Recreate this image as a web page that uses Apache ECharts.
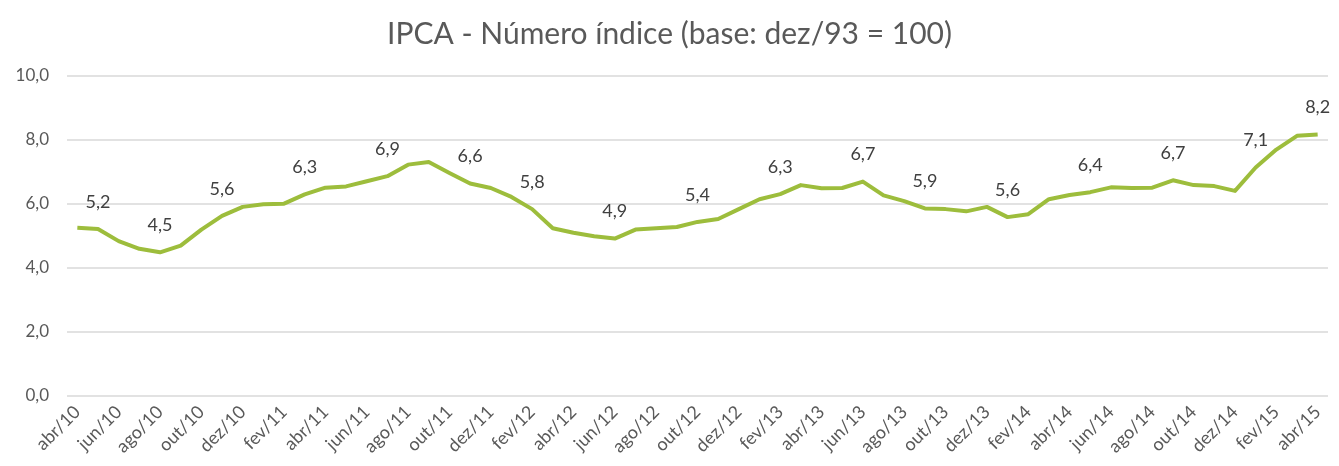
<!DOCTYPE html>
<html>
<head>
<meta charset="utf-8">
<script src="https://cdn.jsdelivr.net/npm/echarts@6/dist/echarts.min.js"></script>
<style>
  html, body { margin: 0; padding: 0; background: #fff; }
  #chart { width: 1339px; height: 466px; }
</style>
</head>
<body>
<div id="chart"></div>
<script>
const months = [
  'abr/10','mai/10','jun/10','jul/10','ago/10','set/10','out/10','nov/10','dez/10',
  'jan/11','fev/11','mar/11','abr/11','mai/11','jun/11','jul/11','ago/11','set/11','out/11','nov/11','dez/11',
  'jan/12','fev/12','mar/12','abr/12','mai/12','jun/12','jul/12','ago/12','set/12','out/12','nov/12','dez/12',
  'jan/13','fev/13','mar/13','abr/13','mai/13','jun/13','jul/13','ago/13','set/13','out/13','nov/13','dez/13',
  'jan/14','fev/14','mar/14','abr/14','mai/14','jun/14','jul/14','ago/14','set/14','out/14','nov/14','dez/14',
  'jan/15','fev/15','mar/15','abr/15'
]

const ipca = [
  5.26, 5.22, 4.84, 4.60, 4.49, 4.70, 5.20, 5.63, 5.91,
  5.99, 6.01, 6.30, 6.51, 6.55, 6.71, 6.87, 7.23, 7.31, 6.97, 6.64, 6.50,
  6.22, 5.84, 5.24, 5.10, 4.99, 4.92, 5.20, 5.24, 5.28, 5.44, 5.53, 5.84,
  6.15, 6.31, 6.59, 6.49, 6.50, 6.70, 6.27, 6.09, 5.86, 5.84, 5.77, 5.91,
  5.59, 5.68, 6.15, 6.28, 6.37, 6.52, 6.50, 6.51, 6.74, 6.59, 6.56, 6.41,
  7.14, 7.70, 8.13, 8.17
]

// months that carry a data label
const labeledMonths = [
  'mai/10','ago/10','nov/10','mar/11','jul/11','nov/11','fev/12','jun/12',
  'out/12','fev/13','jun/13','set/13','jan/14','mai/14','set/14','jan/15','abr/15'
]

const yTicks = [0, 2, 4, 6, 8, 10]

const fmt = v => v.toFixed(1).replace('.', ',')
const font = 'Lato, "Open Sans", sans-serif'

const chart = echarts.init(document.getElementById('chart'))

chart.setOption({
  animation: false,
  title: {
    text: 'IPCA - Número índice (base: dez/93 = 100)',
    left: 'center',
    top: 14,
    textStyle: {
      fontFamily: font,
      fontSize: 30,
      fontWeight: 'normal',
      color: '#595959'
    }
  },
  grid: {
    top: 76,
    left: 67,
    right: 11,
    bottom: 70
  },
  xAxis: {
    type: 'category',
    data: months,
    boundaryGap: true,
    axisLine: { show: false },
    axisTick: { show: false },
    axisLabel: {
      interval: 1,
      rotate: 45,
      margin: 13,
      fontFamily: font,
      fontSize: 18,
      color: '#595959'
    }
  },
  yAxis: {
    type: 'value',
    min: yTicks[0],
    max: yTicks[yTicks.length - 1],
    interval: 2,
    axisLine: { show: false },
    axisTick: { show: false },
    axisLabel: {
      margin: 18,
      fontFamily: font,
      fontSize: 17,
      color: '#595959',
      formatter: v => fmt(v)
    },
    splitLine: {
      lineStyle: { color: '#d9d9d9', width: 1.5 }
    }
  },
  series: [{
    type: 'line',
    data: ipca.map((v, i) => ({
      value: v,
      label: { show: labeledMonths.includes(months[i]) }
    })),
    showSymbol: true,
    symbol: 'circle',
    symbolSize: 0,
    lineStyle: {
      width: 4,
      color: '#9dbd3c',
      join: 'round'
    },
    itemStyle: { color: '#9dbd3c' },
    label: {
      position: 'top',
      distance: 18,
      fontFamily: font,
      fontSize: 18,
      color: '#404040',
      formatter: p => fmt(p.value)
    },
    labelLayout: { hideOverlap: false }
  }]
})
</script>
</body>
</html>
